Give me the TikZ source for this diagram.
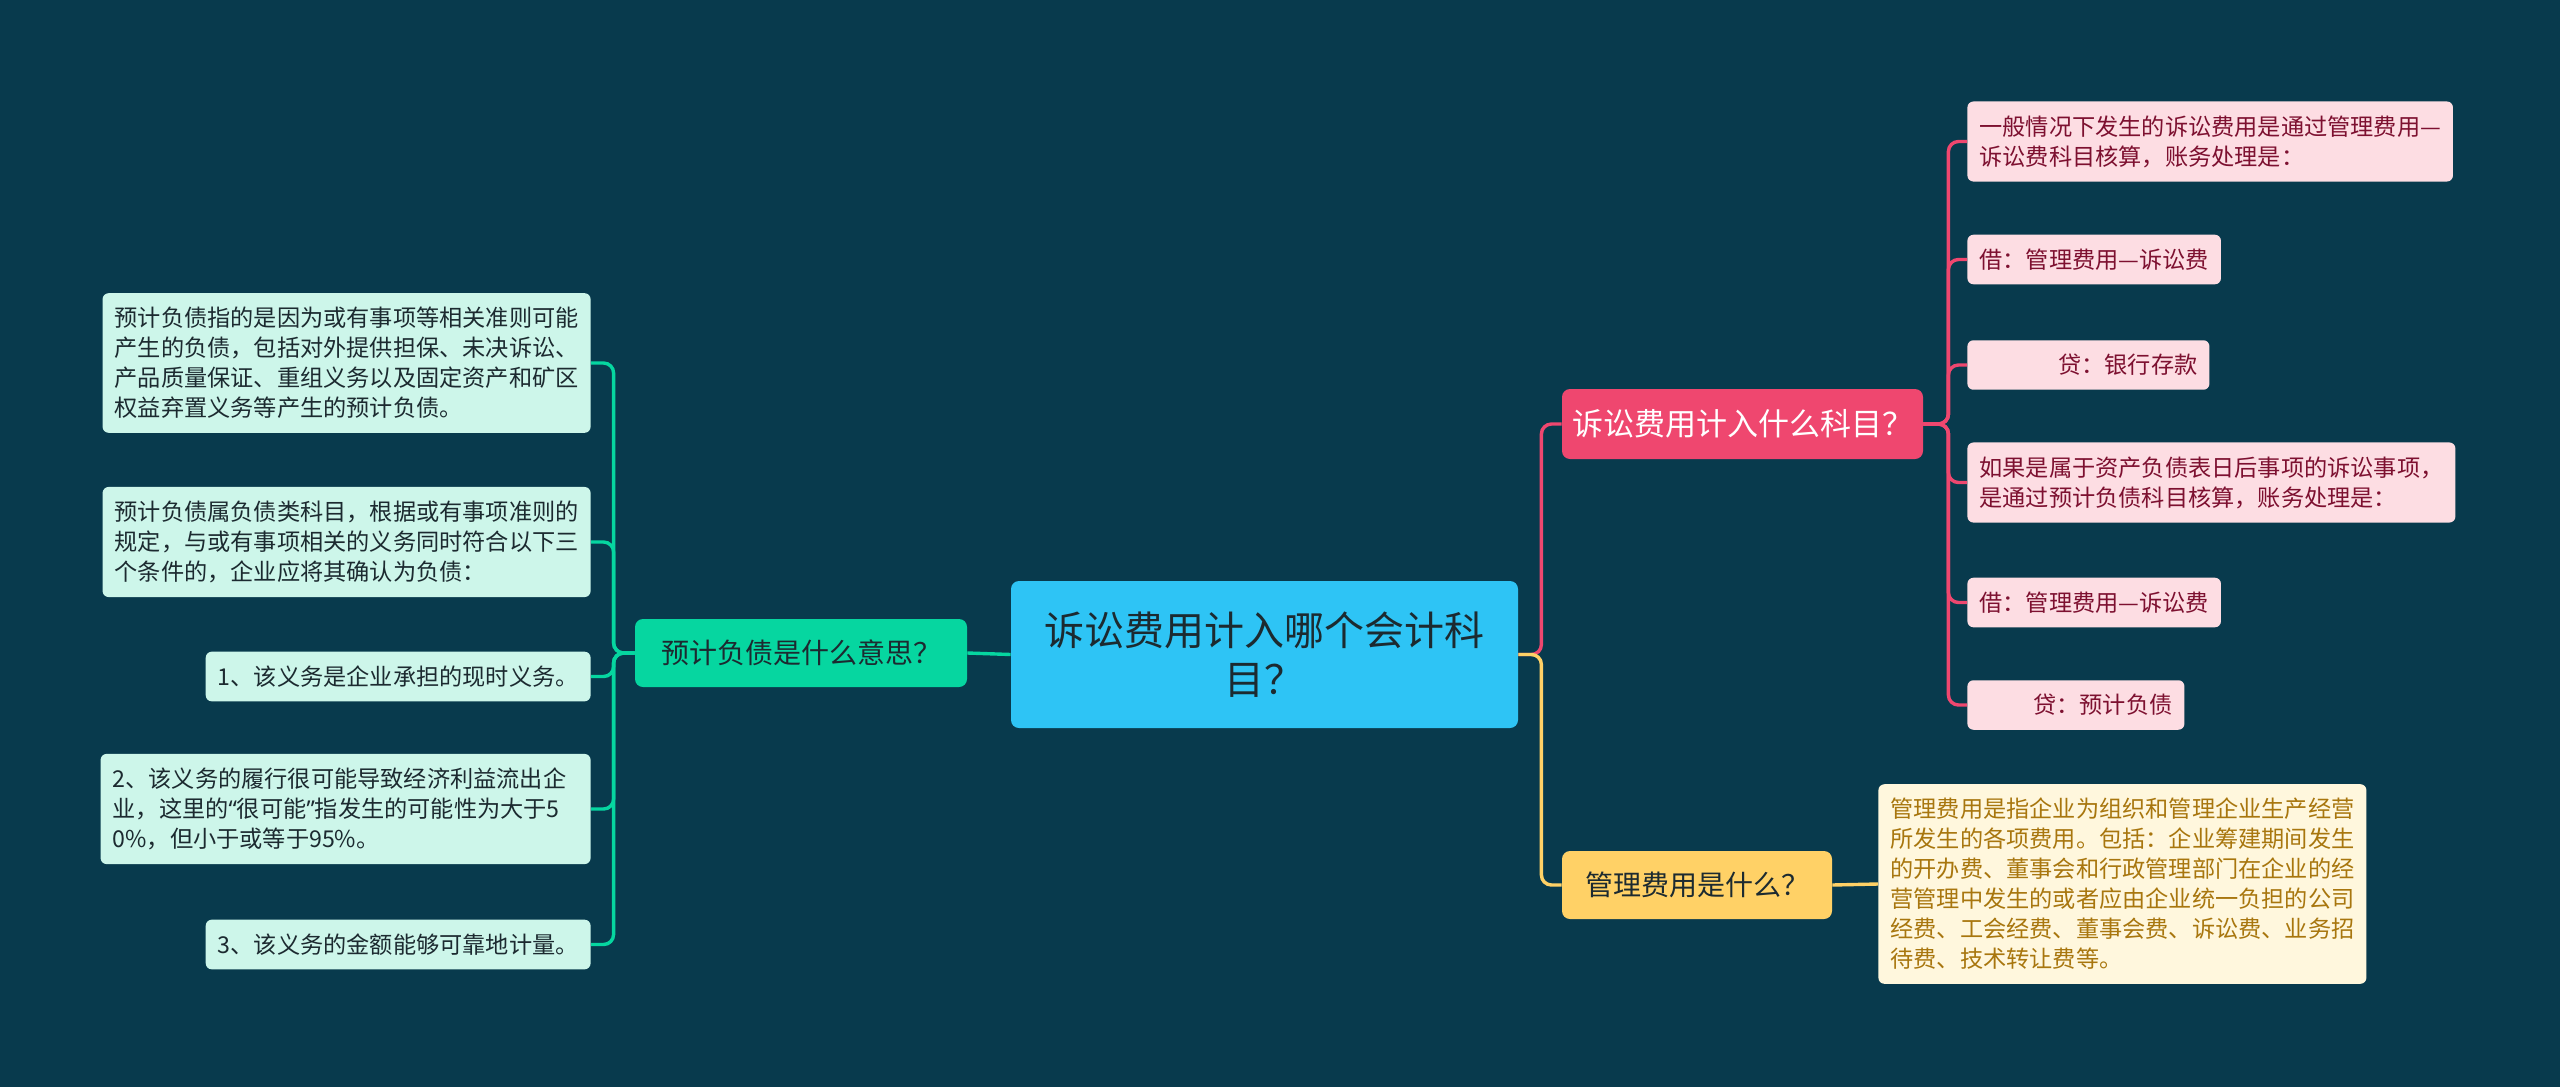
\documentclass[tikz,border=0pt]{standalone}
\usepackage{fontspec}
\setmainfont{Noto Sans CJK SC}
\newfontfamily\latinq{Noto Sans}

\definecolor{bgcol}{HTML}{083A4D}
\definecolor{rootcol}{HTML}{2EC4F5}
\definecolor{greencol}{HTML}{06D6A0}
\definecolor{pinkcol}{HTML}{EF476F}
\definecolor{yellowcol}{HTML}{FFD166}
\definecolor{gleafcol}{HTML}{CDF6EA}
\definecolor{pleafcol}{HTML}{FDDDE3}
\definecolor{yleafcol}{HTML}{FFF7DD}
\definecolor{darktext}{HTML}{1C2A30}
\definecolor{redtext}{HTML}{7D1030}
\definecolor{goldtext}{HTML}{A8760E}

\tikzset{
  leafbox/.style={rounded corners=3pt, inner xsep=6pt, inner ysep=7pt, align=left,
    font=\fontsize{11.6}{15}\selectfont},
  gleaf/.style={leafbox, fill=gleafcol, text=darktext, anchor=east},
  pleaf/.style={leafbox, fill=pleafcol, text=redtext, anchor=west},
  yleaf/.style={leafbox, fill=yleafcol, text=goldtext, anchor=west},
  topic/.style={rounded corners=4pt, inner sep=0pt, align=center,
    font=\fontsize{14}{17}\selectfont, text=darktext},
  link/.style={line width=1.7pt, rounded corners=5pt}
}

\begin{document}
\begin{tikzpicture}[x=0.5pt,y=-0.5pt]
\fill[bgcol] (0,0) rectangle (2560,1087);
\useasboundingbox (0,0) rectangle (2560,1087);

\node [rounded corners=4pt, fill=rootcol, text=darktext, align=center,
  minimum width=253.5pt, minimum height=73.5pt, inner sep=0pt,
  font=\fontsize{20}{24.5}\selectfont] (root) at (1264.5,654.5)
  {诉讼费用计入哪个会计科\\目？};

% left side
\node [topic, fill=greencol, minimum width=166pt, minimum height=34pt] (yj) at (801,653) {预计负债是什么意思？};

\node [gleaf] (l1) at (591,363) {预计负债指的是因为或有事项等相关准则可能\\产生的负债，包括对外提供担保、未决诉讼、\\产品质量保证、重组义务以及固定资产和矿区\\权益弃置义务等产生的预计负债。};
\node [gleaf] (l2) at (591,542) {预计负债属负债类科目，根据或有事项准则的\\规定，与或有事项相关的义务同时符合以下三\\个条件的，企业应将其确认为负债：};
\node [gleaf] (l3) at (591,676.5) {1、该义务是企业承担的现时义务。};
\node [gleaf, text width=233pt] (l4) at (591,809) {2、该义务的履行很可能导致经济利益流出企\\业，这里的{\latinq “}很可能{\latinq ”}指发生的可能性为大于5\\0\%，但小于或等于95\%。};
\node [gleaf] (l5) at (591,944.5) {3、该义务的金额能够可靠地计量。};

\draw [link, greencol] (root.west) -- (yj.east);
\foreach \n in {l1,l2,l3,l4,l5}
  \draw [link, greencol] (yj.west) -- ++(-21,0) |- (\n.east);

% right side
\node [topic, fill=pinkcol, text=white, minimum width=180.5pt, minimum height=35pt,
  font=\fontsize{15.5}{18}\selectfont] (ss) at (1742.5,424) {诉讼费用计入什么科目？};
\node [topic, fill=yellowcol, minimum width=135pt, minimum height=34pt] (gl) at (1697,885) {管理费用是什么？};

\node [pleaf] (r1) at (1967,141.5) {一般情况下发生的诉讼费用是通过管理费用—\\诉讼费科目核算，账务处理是：};
\node [pleaf] (r2) at (1967,259.5) {借：管理费用—诉讼费};
\node [pleaf, text width=109pt, align=right] (r3) at (1967,365) {贷：银行存款};
\node [pleaf] (r4) at (1967,482.5) {如果是属于资产负债表日后事项的诉讼事项，\\是通过预计负债科目核算，账务处理是：};
\node [pleaf] (r5) at (1967,602.5) {借：管理费用—诉讼费};
\node [pleaf, text width=96.5pt, align=right] (r6) at (1967,705) {贷：预计负债};

\node [yleaf] (y1) at (1878,884) {管理费用是指企业为组织和管理企业生产经营\\所发生的各项费用。包括：企业筹建期间发生\\的开办费、董事会和行政管理部门在企业的经\\营管理中发生的或者应由企业统一负担的公司\\经费、工会经费、董事会费、诉讼费、业务招\\待费、技术转让费等。};

\draw [link, pinkcol] (root.east) -- ++(23,0) |- (ss.west);
\draw [link, yellowcol] (root.east) -- ++(23,0) |- (gl.west);
\foreach \n in {r1,r2,r3,r4,r5,r6}
  \draw [link, pinkcol] (ss.east) -- ++(25,0) |- (\n.west);
\draw [link, yellowcol] (gl.east) -- (y1.west);

\end{tikzpicture}
\end{document}
